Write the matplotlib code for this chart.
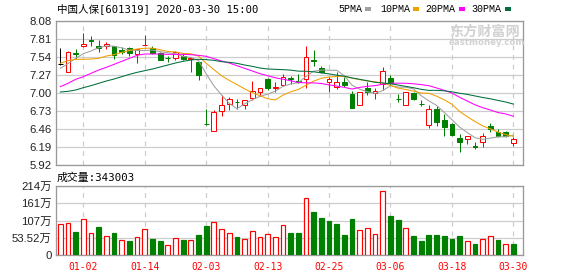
import matplotlib
matplotlib.use('Agg')
import matplotlib.pyplot as plt
import numpy as np
from matplotlib.patches import Rectangle

# ---------------- data ----------------
title = '中国人保[601319] 2020-03-30 15:00'
vol_label = '成交量:343003'
legend_labels = ['5PMA', '10PMA', '20PMA', '30PMA']

opens = [7.43, 7.32, 7.60, 7.71, 7.79, 7.71, 7.705, 7.705, 7.645, 7.675,
         7.58, 7.715, 7.67, 7.605, 7.53, 7.53, 7.555, 7.505, 7.465, 6.535,
         6.425, 6.735, 6.83, 6.87, 6.82, 6.93, 7.015, 7.21, 7.075, 7.115,
         7.22, 7.175, 7.205, 7.495, 7.37, 7.17, 7.095, 7.17, 6.985, 6.815,
         7.075, 7.0, 7.13, 7.22, 6.915, 6.815, 7.0, 6.84, 6.515, 6.755,
         6.595, 6.53, 6.325, 6.31, 6.20, 6.27, 6.505, 6.415, 6.41, 6.245]
closes = [7.43, 7.615, 7.59, 7.735, 7.78, 7.68, 7.74, 7.575, 7.61, 7.60,
          7.665, 7.725, 7.605, 7.495, 7.52, 7.615, 7.505, 7.53, 7.265, 6.53,
          6.71, 6.815, 6.905, 6.86, 6.89, 7.025, 7.07, 7.07, 7.085, 7.245,
          7.21, 7.165, 7.535, 7.485, 7.32, 7.205, 7.16, 7.12, 6.78, 7.015,
          7.02, 7.035, 7.335, 7.145, 6.905, 7.015, 6.905, 6.83, 6.755, 6.57,
          6.485, 6.365, 6.265, 6.35, 6.19, 6.355, 6.455, 6.36, 6.36, 6.31]
highs = [7.675, 7.63, 7.66, 7.895, 7.855, 7.795, 7.76, 7.71, 7.685, 7.685,
         7.665, 7.87, 7.705, 7.62, 7.555, 7.635, 7.58, 7.545, 7.47, 6.755,
         6.745, 6.965, 6.945, 6.905, 6.89, 7.18, 7.07, 7.23, 7.16, 7.285,
         7.255, 7.28, 7.705, 7.645, 7.405, 7.245, 7.32, 7.245, 7.03, 7.02,
         7.17, 7.07, 7.385, 7.27, 6.985, 7.02, 7.015, 6.895, 6.82, 6.805,
         6.68, 6.545, 6.38, 6.35, 6.26, 6.395, 6.545, 6.455, 6.43, 6.345]
lows = [7.42, 7.32, 7.505, 7.695, 7.705, 7.62, 7.655, 7.515, 7.58, 7.555,
        7.455, 7.715, 7.58, 7.49, 7.465, 7.49, 7.495, 7.32, 7.195, 6.525,
        6.425, 6.655, 6.745, 6.755, 6.755, 6.895, 6.955, 7.045, 7.02, 7.115,
        7.13, 7.145, 7.08, 7.41, 7.295, 7.02, 7.055, 7.085, 6.78, 6.815,
        6.975, 6.915, 7.045, 7.12, 6.865, 6.815, 6.9, 6.805, 6.48, 6.505,
        6.355, 6.36, 6.11, 6.23, 6.155, 6.19, 6.42, 6.345, 6.34, 6.21]

ma5 = [7.37, 7.44, 7.52, 7.59, 7.63, 7.68, 7.705, 7.702, 7.676, 7.643,
       7.64, 7.637, 7.643, 7.621, 7.602, 7.592, 7.548, 7.533, 7.487, 7.289,
       7.108, 6.97, 6.845, 6.764, 6.836, 6.899, 6.95, 6.983, 7.028, 7.099,
       7.136, 7.155, 7.248, 7.328, 7.343, 7.342, 7.341, 7.258, 7.117, 7.056,
       7.019, 6.994, 7.037, 7.11, 7.088, 7.087, 7.061, 6.96, 6.882, 6.815,
       6.709, 6.601, 6.488, 6.407, 6.331, 6.305, 6.323, 6.342, 6.344, 6.368]
ma10 = [7.445, 7.485, 7.505, 7.505, 7.51, 7.52, 7.555, 7.575, 7.61, 7.637,
        7.66, 7.671, 7.673, 7.649, 7.623, 7.616, 7.593, 7.588, 7.554, 7.446,
        7.35, 7.259, 7.189, 7.126, 7.063, 7.004, 6.96, 6.914, 6.896, 6.968,
        7.018, 7.053, 7.116, 7.178, 7.221, 7.239, 7.248, 7.253, 7.223, 7.2,
        7.181, 7.168, 7.148, 7.114, 7.072, 7.053, 7.028, 6.999, 6.996, 6.952,
        6.898, 6.831, 6.724, 6.645, 6.573, 6.507, 6.462, 6.415, 6.376, 6.35]
ma20 = [7.095, 7.145, 7.205, 7.245, 7.295, 7.345, 7.385, 7.43, 7.475, 7.52,
        7.565, 7.585, 7.585, 7.585, 7.58, 7.58, 7.58, 7.575, 7.565, 7.55,
        7.515, 7.48, 7.45, 7.41, 7.37, 7.33, 7.29, 7.26, 7.228, 7.207,
        7.184, 7.156, 7.153, 7.152, 7.142, 7.122, 7.104, 7.084, 7.06, 7.084,
        7.1, 7.111, 7.132, 7.146, 7.147, 7.146, 7.138, 7.126, 7.11, 7.076,
        7.04, 7.0, 6.936, 6.88, 6.823, 6.78, 6.745, 6.707, 6.686, 6.651]
ma30 = [7.015, 7.025, 7.045, 7.08, 7.11, 7.145, 7.18, 7.21, 7.245, 7.28,
        7.31, 7.335, 7.36, 7.39, 7.42, 7.45, 7.475, 7.495, 7.505, 7.50,
        7.49, 7.47, 7.46, 7.445, 7.42, 7.40, 7.375, 7.36, 7.355, 7.35,
        7.343, 7.328, 7.326, 7.318, 7.302, 7.287, 7.267, 7.252, 7.225, 7.205,
        7.183, 7.16, 7.151, 7.139, 7.119, 7.099, 7.079, 7.055, 7.039, 7.04,
        7.033, 7.018, 6.996, 6.979, 6.956, 6.933, 6.913, 6.889, 6.865, 6.834]

volumes = [96.9, 100, 72.2, 111.3, 69.1, 87.6, 59.8, 69.1, 47.5, 44.4,
           56.8, 80.5, 50.6, 44.4, 32.1, 52.6, 47.5, 47.5, 62.9, 90.7,
           102, 80.5, 69.1, 56.8, 50.6, 74.3, 56.8, 66, 56.8, 92.8,
           68.2, 70, 176, 133.9, 115.4, 106, 96.9, 62.9, 112.3, 77.4,
           83.6, 65, 197.7, 121.5, 109.2, 83.6, 59.8, 45.4, 62.9, 62.9,
           59.8, 50.6, 59.8, 44.4, 35.2, 49.6, 58.9, 47.5, 35.2, 34.3]

xtick_idx = [3, 11, 19, 27, 35, 43, 51, 59]
xtick_labels = ['01-02', '01-14', '02-03', '02-13', '02-25', '03-06', '03-18', '03-30']
price_ticks = [5.92, 6.19, 6.46, 6.73, 7.00, 7.27, 7.54, 7.81, 8.08]
vol_ticks = [0, 53.52, 107.04, 160.56, 214.08]
vol_tick_labels = ['0', '53.52万', '107万', '161万', '214万']

# ---------------- style ----------------
W, H = 578, 276
RED = '#ff0000'
GREEN = '#008000'
MA_COLORS = ['#a0a0a0', '#f0a000', '#ff00ff', '#006f3c']
FRAME = '#999999'
GRID = '#cccccc'
PX = 72 / 100.0  # one pixel in points

MONO = ['DejaVu Sans Mono', 'Noto Sans CJK SC']
SANS = ['Liberation Sans', 'Noto Sans CJK SC']

fig = plt.figure(figsize=(W / 100, H / 100), dpi=100)
fig.patch.set_facecolor('white')

L, R = 56, 522.7
ax = fig.add_axes([L / W, 1 - 165 / H, (R - L) / W, (165 - 21) / H])
axv = fig.add_axes([L / W, 1 - 255.4 / H, (R - L) / W, (255.4 - 186) / H])

n = len(closes)
x = np.arange(n)
o = np.array(opens); c = np.array(closes)
hi = np.array(highs); lo = np.array(lows)

# candle colors
cand_col = []
for oo, cc in zip(o, c):
    if cc > oo:
        cand_col.append(RED)
    elif cc < oo:
        cand_col.append(GREEN)
    else:
        cand_col.append('black')
face = ['white' if col == RED else col for col in cand_col]

bw = 0.62
ax.vlines(x, lo, hi, colors=cand_col, linewidth=PX, zorder=3)
ax.bar(x, np.abs(c - o), bottom=np.minimum(o, c), width=bw, color=face,
       edgecolor=cand_col, linewidth=PX, zorder=4)

for ma, col in zip([ma5, ma10, ma20, ma30], MA_COLORS):
    ax.plot(x, ma, color=col, linewidth=1.05 * PX, zorder=5)

ax.set_xlim(-0.56, 60.22)
ax.set_ylim(5.92, 8.08)
ax.set_yticks(price_ticks)
ax.set_yticklabels([f'{v:.2f}' for v in price_ticks], family=SANS,
                   fontsize=8.2, color='#222222')
ax.set_xticks(xtick_idx)
ax.set_xticklabels([])
ax.tick_params(length=0, pad=3)
ax.yaxis.grid(True, color=GRID, linewidth=1.2 * PX, linestyle='-')
ax.xaxis.grid(True, color=GRID, linewidth=1.2 * PX, linestyle=(0, (4, 4)))
ax.set_axisbelow(True)
for s in ax.spines.values():
    s.set_color(FRAME)
    s.set_linewidth(1.3 * PX)

# volume
v_up = [True]
for i in range(1, n):
    v_up.append(closes[i] >= closes[i - 1])
v_edge = [RED if u else GREEN for u in v_up]
v_face = ['white' if u else GREEN for u in v_up]
axv.bar(x, volumes, width=bw, color=v_face, edgecolor=v_edge,
        linewidth=1.2 * PX, zorder=3)
axv.set_xlim(-0.56, 60.22)
axv.set_ylim(0, 214.08)
axv.set_yticks(vol_ticks)
axv.set_yticklabels(vol_tick_labels, family=SANS, fontsize=8.2, color='#222222')
axv.set_xticks(xtick_idx)
axv.set_xticklabels(xtick_labels, family=MONO, fontsize=7.0, color=RED)
axv.tick_params(length=0, pad=3)
axv.tick_params(axis='x', pad=5)
axv.yaxis.grid(True, color=GRID, linewidth=1.2 * PX, linestyle='-')
axv.xaxis.grid(True, color=GRID, linewidth=1.2 * PX, linestyle=(0, (4, 4)))
axv.set_axisbelow(True)
for s in axv.spines.values():
    s.set_color(FRAME)
    s.set_linewidth(1.3 * PX)


def ftext(px, py, s, **kw):
    fig.text(px / W, 1 - py / H, s, **kw)


# title & volume label
ftext(57, 9, title, family=MONO, fontsize=7.6, color='black', va='center', ha='left')
ftext(57, 177.5, vol_label, family=MONO, fontsize=7.8, color='black', va='center', ha='left')

# legend
leg_text_x = [338.3, 380, 425.7, 471.7]
leg_sw_x = [365, 413.3, 459.3, 505]
for lab, tx, sx, col in zip(legend_labels, leg_text_x, leg_sw_x, MA_COLORS):
    ftext(tx, 9.3, lab, family=['Liberation Mono'], fontsize=7.2, color='black',
          va='center', ha='left')
    fig.add_artist(Rectangle((sx / W, 1 - 10.8 / H), 6 / W, 3.5 / H,
                             transform=fig.transFigure, color=col, lw=0))

# watermark
ftext(449, 31.5, '东方财富网', family=['Noto Sans CJK SC'], fontweight='bold',
      fontsize=10.2, color='#d2d2d2', va='center', ha='left')
ftext(449, 42.5, 'eastmoney.com', family=['DejaVu Sans'], fontweight='bold',
      fontsize=6.2, color='#d2d2d2', va='center', ha='left')

fig.savefig('out.png', dpi=100, facecolor='white')
